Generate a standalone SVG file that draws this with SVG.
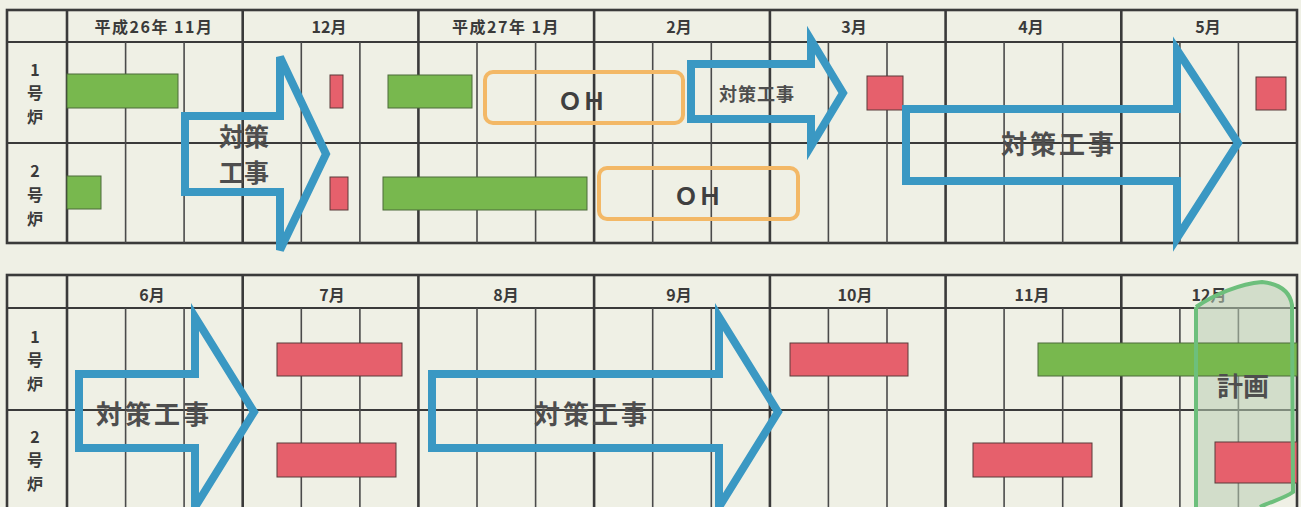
<svg xmlns="http://www.w3.org/2000/svg" width="1301" height="507" viewBox="0 0 1301 507">
<style>
.bg{fill:#eff0e5}
.mj{stroke:#3a3a3a;stroke-width:2.6;fill:none}
.mn{stroke:#4a4a4a;stroke-width:1.6;fill:none}
.hz{stroke:#3a3a3a;stroke-width:2.2;fill:none}
.hd{font-family:"Noto Sans CJK JP","Noto Sans",sans-serif;font-weight:bold;font-size:16px;fill:#3a3a3a;text-anchor:middle}
.lb{font-family:"Noto Sans CJK JP","Noto Sans",sans-serif;font-weight:bold;font-size:16px;fill:#3a3a3a;text-anchor:middle}
.gr{fill:#78b84e;stroke:#4d6b3a;stroke-width:1}
.rd{fill:#e6606c;stroke:#5a3a3a;stroke-width:1}
.ar{fill:none;stroke:#3a98c3;stroke-width:8;stroke-linejoin:miter}
.at{font-family:"Noto Sans CJK JP","Noto Sans",sans-serif;font-weight:bold;fill:#4e4e4e;text-anchor:middle}
.oh{fill:none;stroke:#f3b866;stroke-width:4}
.ot{font-family:"Noto Sans CJK JP","Noto Sans",sans-serif;font-weight:bold;font-size:24px;fill:#3f3f3f;text-anchor:middle}
</style>
<rect class="bg" x="0" y="0" width="1301" height="507"/>

<g id="table-top">
<rect class="mj" x="7" y="10" width="1290" height="233"/>
<line class="hz" x1="7" y1="42" x2="1297" y2="42"/>
<line class="hz" x1="7" y1="143" x2="1297" y2="143"/>
<line class="mj" x1="67" y1="10" x2="67" y2="243"/>
<line class="mj" x1="242.7" y1="10" x2="242.7" y2="243"/>
<line class="mj" x1="418.4" y1="10" x2="418.4" y2="243"/>
<line class="mj" x1="594.1" y1="10" x2="594.1" y2="243"/>
<line class="mj" x1="769.9" y1="10" x2="769.9" y2="243"/>
<line class="mj" x1="945.6" y1="10" x2="945.6" y2="243"/>
<line class="mj" x1="1121.3" y1="10" x2="1121.3" y2="243"/>
<g class="mn">
<line x1="125.6" y1="42" x2="125.6" y2="243"/><line x1="184.1" y1="42" x2="184.1" y2="243"/>
<line x1="301.3" y1="42" x2="301.3" y2="243"/><line x1="359.9" y1="42" x2="359.9" y2="243"/>
<line x1="477" y1="42" x2="477" y2="243"/><line x1="535.6" y1="42" x2="535.6" y2="243"/>
<line x1="652.7" y1="42" x2="652.7" y2="243"/><line x1="711.3" y1="42" x2="711.3" y2="243"/>
<line x1="828.4" y1="42" x2="828.4" y2="243"/><line x1="887" y1="42" x2="887" y2="243"/>
<line x1="1004.1" y1="42" x2="1004.1" y2="243"/><line x1="1062.7" y1="42" x2="1062.7" y2="243"/>
<line x1="1179.9" y1="42" x2="1179.9" y2="243"/><line x1="1238.4" y1="42" x2="1238.4" y2="243"/>
</g>
<text class="hd" x="154" y="33" letter-spacing="1.5">平成26年 11月</text>
<text class="hd" x="329" y="33">12月</text>
<text class="hd" x="506" y="33" letter-spacing="1.5">平成27年 1月</text>
<text class="hd" x="679" y="33">2月</text>
<text class="hd" x="854" y="33">3月</text>
<text class="hd" x="1031" y="33">4月</text>
<text class="hd" x="1208" y="33">5月</text>
<text class="lb" x="35" y="76">1</text>
<text class="lb" x="35" y="99">号</text>
<text class="lb" x="35" y="123">炉</text>
<text class="lb" x="35" y="177">2</text>
<text class="lb" x="35" y="201">号</text>
<text class="lb" x="35" y="225">炉</text>
</g>

<g id="table-bottom">
<rect class="mj" x="7" y="275" width="1290" height="237"/>
<line class="hz" x1="7" y1="308" x2="1297" y2="308"/>
<line class="hz" x1="7" y1="410" x2="1297" y2="410"/>
<line class="mj" x1="67" y1="275" x2="67" y2="512"/>
<line class="mj" x1="242.7" y1="275" x2="242.7" y2="512"/>
<line class="mj" x1="418.4" y1="275" x2="418.4" y2="512"/>
<line class="mj" x1="594.1" y1="275" x2="594.1" y2="512"/>
<line class="mj" x1="769.9" y1="275" x2="769.9" y2="512"/>
<line class="mj" x1="945.6" y1="275" x2="945.6" y2="512"/>
<line class="mj" x1="1121.3" y1="275" x2="1121.3" y2="512"/>
<g class="mn">
<line x1="125.6" y1="308" x2="125.6" y2="512"/><line x1="184.1" y1="308" x2="184.1" y2="512"/>
<line x1="301.3" y1="308" x2="301.3" y2="512"/><line x1="359.9" y1="308" x2="359.9" y2="512"/>
<line x1="477" y1="308" x2="477" y2="512"/><line x1="535.6" y1="308" x2="535.6" y2="512"/>
<line x1="652.7" y1="308" x2="652.7" y2="512"/><line x1="711.3" y1="308" x2="711.3" y2="512"/>
<line x1="828.4" y1="308" x2="828.4" y2="512"/><line x1="887" y1="308" x2="887" y2="512"/>
<line x1="1004.1" y1="308" x2="1004.1" y2="512"/><line x1="1062.7" y1="308" x2="1062.7" y2="512"/>
<line x1="1179.9" y1="308" x2="1179.9" y2="512"/><line x1="1238.4" y1="308" x2="1238.4" y2="512"/>
</g>
<text class="hd" x="152" y="301">6月</text>
<text class="hd" x="332" y="301">7月</text>
<text class="hd" x="506" y="301">8月</text>
<text class="hd" x="679" y="301">9月</text>
<text class="hd" x="855" y="301">10月</text>
<text class="hd" x="1032" y="301">11月</text>
<text class="hd" x="1209" y="301">12月</text>
<text class="lb" x="35" y="343">1</text>
<text class="lb" x="35" y="366">号</text>
<text class="lb" x="35" y="390">炉</text>
<text class="lb" x="35" y="443">2</text>
<text class="lb" x="35" y="466">号</text>
<text class="lb" x="35" y="490">炉</text>
</g>

<g id="plan-area">
<path d="M1196,307 C1215,294 1240,284 1262,282 C1280,284 1290,292 1292,305 L1293,492 C1285,498 1270,502 1260,507 L1196,507 Z" fill="#b9cdb4" fill-opacity="0.55"/>
</g>

<g id="bars-top">
<rect class="gr" x="67" y="74" width="111" height="34"/>
<rect class="rd" x="330" y="75" width="13" height="33"/>
<rect class="gr" x="388" y="75" width="84" height="33"/>
<rect class="rd" x="867" y="76" width="36" height="34"/>
<rect class="rd" x="1256" y="77" width="30" height="33"/>
<rect class="gr" x="67" y="176" width="34" height="33"/>
<rect class="rd" x="330" y="177" width="18" height="33"/>
<rect class="gr" x="383" y="177" width="204" height="33"/>
</g>

<g id="oh-1">
<rect class="oh" x="485" y="72" width="198" height="51" rx="8"/>
<text class="ot" x="582" y="110">ＯＨ</text>
</g>
<g id="oh-2">
<rect class="oh" x="599" y="168" width="199" height="51" rx="8"/>
<text class="ot" x="698" y="205">ＯＨ</text>
</g>

<g id="arrow-top-1">
<path class="ar" d="M185,116 H280 V57 L326,154 L280,250 V192 H185 Z"/>
<text class="at" x="244" y="146" font-size="25">対策</text>
<text class="at" x="244" y="182" font-size="25">工事</text>
</g>
<g id="arrow-top-2">
<path class="ar" stroke-width="6" d="M691,64 H811 V40 L843,93 L811,146 V119 H691 Z"/>
<text class="at" x="757" y="101" font-size="18" letter-spacing="1">対策工事</text>
</g>
<g id="arrow-top-3">
<path class="ar" d="M906,109 H1177 V50 L1238,143 L1177,238 V181 H906 Z"/>
<text class="at" x="1059" y="154" font-size="26" letter-spacing="3">対策工事</text>
</g>

<g id="bars-bottom">
<rect class="rd" x="277" y="343" width="125" height="33"/>
<rect class="rd" x="277" y="443" width="119" height="34"/>
<rect class="rd" x="790" y="343" width="118" height="33"/>
<rect class="gr" x="1038" y="343" width="259" height="33"/>
<rect class="rd" x="973" y="443" width="119" height="34"/>
<rect class="rd" x="1215" y="442" width="82" height="41"/>
</g>

<g id="arrow-bottom-1">
<path class="ar" d="M79,374 H195 V317 L254,412 L195,507 V448 H79 Z"/>
<text class="at" x="154" y="424" font-size="26" letter-spacing="3">対策工事</text>
</g>
<g id="arrow-bottom-2">
<path class="ar" d="M432,374 H719 V317 L778,412 L719,507 V448 H432 Z"/>
<text class="at" x="592" y="424" font-size="26" letter-spacing="3">対策工事</text>
</g>

<g id="plan-outline">
<path d="M1196,307 C1215,294 1240,284 1262,282 C1280,284 1290,292 1292,305 L1293,492 C1285,498 1270,502 1260,507 M1196,307 L1196,507" fill="none" stroke="#6dbf7c" stroke-width="4"/>
<text class="at" x="1243" y="396" font-size="26" fill="#3e3e3e">計画</text>
</g>

<g id="connectors"></g>
</svg>
